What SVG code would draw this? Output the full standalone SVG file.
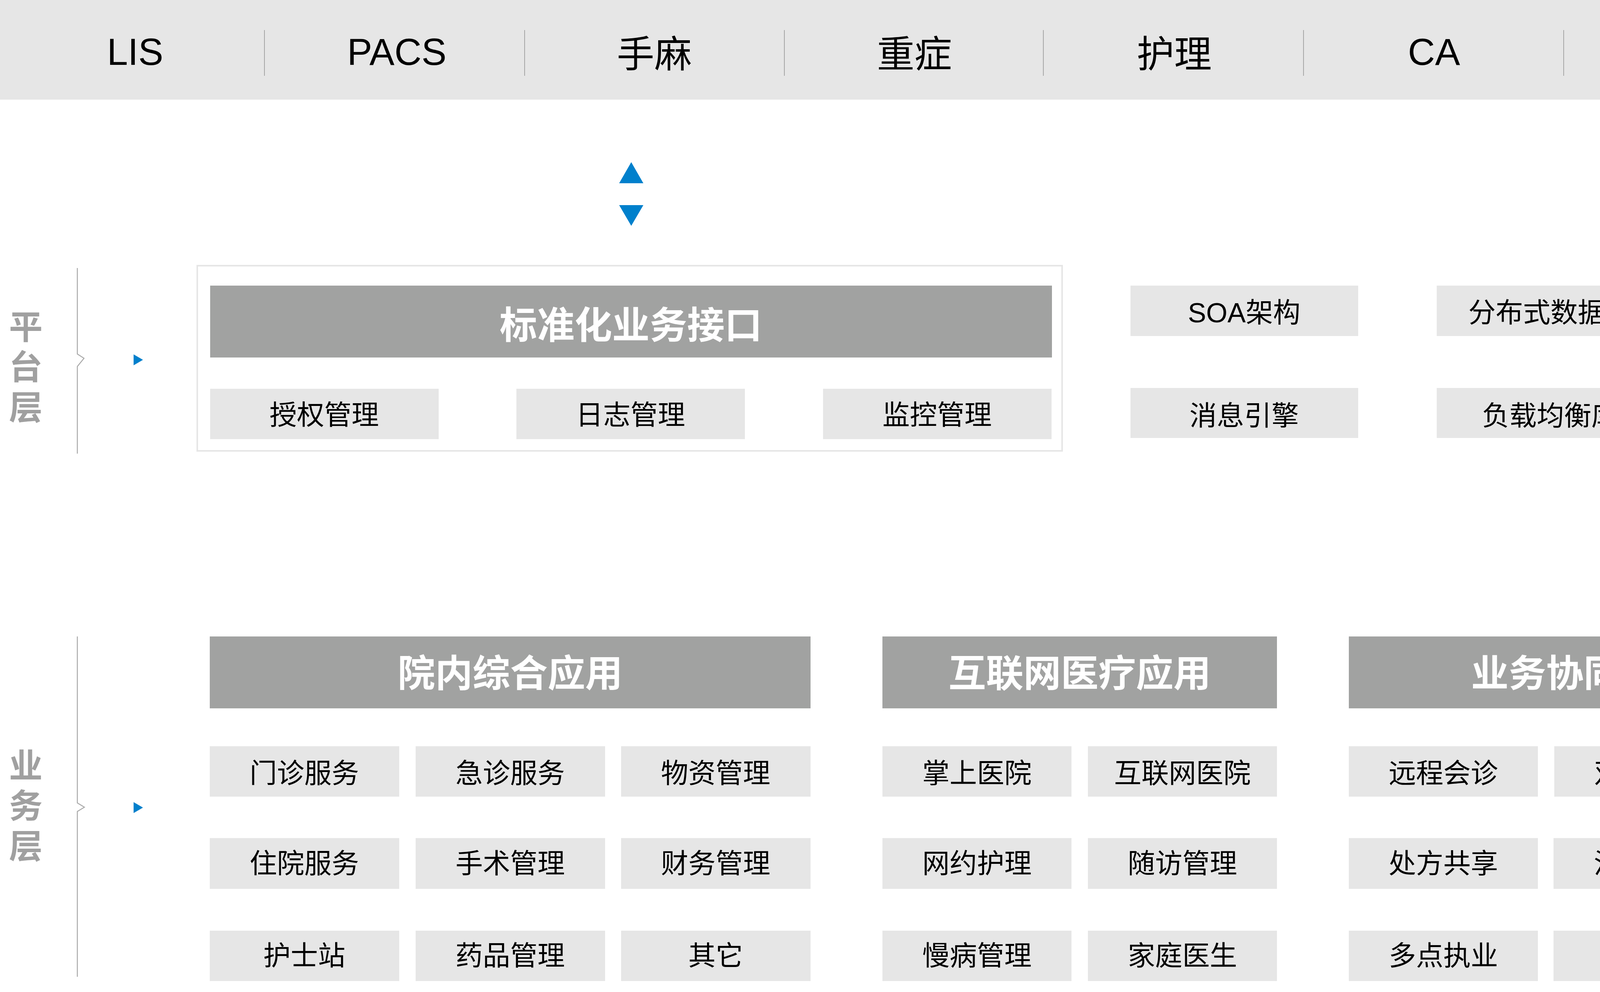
<svg xmlns="http://www.w3.org/2000/svg" width="6001" height="2539" viewBox="0 0 6001 2539">
<style>
.band{fill:#e6e6e6}
.sep{stroke:#a6a6a6;stroke-width:2}
.hdr{fill:#a1a2a1}
.box{fill:#e6e6e6}
.frame{fill:#ffffff;stroke:#e6e6e6;stroke-width:4}
.lat{font-family:"Liberation Sans","Noto Sans CJK SC",sans-serif;font-size:96px;fill:#000;text-anchor:middle}
.cjk{font-family:"Noto Sans CJK SC","Liberation Sans",sans-serif;font-size:96px;fill:#000;text-anchor:middle}
.ht{font-family:"Noto Sans CJK SC","Liberation Sans",sans-serif;font-size:96px;font-weight:bold;fill:#ffffff;text-anchor:middle}
.bt{font-family:"Liberation Sans","Noto Sans CJK SC",sans-serif;font-size:70px;fill:#000;text-anchor:middle}
.layer{font-family:"Noto Sans CJK SC","Liberation Sans",sans-serif;font-size:86px;font-weight:bold;fill:#a0a0a0;writing-mode:vertical-rl;letter-spacing:17px}
.vline{fill:none;stroke:#aaaaaa;stroke-width:2.5}
.tri{fill:#0080cc}
</style>
<rect width="6001" height="2539" fill="#ffffff"/>

<g id="top-band">
<rect class="band" x="0" y="0" width="6001" height="255"/>
<line class="sep" x1="677" y1="77" x2="677" y2="194"/>
<line class="sep" x1="1343" y1="77" x2="1343" y2="194"/>
<line class="sep" x1="2008" y1="77" x2="2008" y2="194"/>
<line class="sep" x1="2671" y1="77" x2="2671" y2="194"/>
<line class="sep" x1="3337" y1="77" x2="3337" y2="194"/>
<line class="sep" x1="4003" y1="77" x2="4003" y2="194"/>
<line class="sep" x1="4666" y1="77" x2="4666" y2="194"/>
<line class="sep" x1="5332" y1="77" x2="5332" y2="194"/>
<text class="lat" x="346" y="166">LIS</text>
<text class="lat" x="1016" y="166">PACS</text>
<text class="cjk" x="1675" y="172">手麻</text>
<text class="cjk" x="2341" y="172">重症</text>
<text class="cjk" x="3006" y="172">护理</text>
<text class="lat" x="3671" y="166">CA</text>
<text class="cjk" x="4338" y="172">输血</text>
<text class="cjk" x="5003" y="172">上报</text>
<text class="cjk" x="5667" y="172">其他</text>
</g>

<g id="layer-platform">
<text class="layer" x="66" y="792">平台层</text>
</g>
<g id="layer-business">
<text class="layer" x="66" y="1915">业务层</text>
</g>

<g id="connectors">
<path class="vline" d="M198 686 V906 L215 917 L198 938 V1161"/>
<path class="vline" d="M198 1629 V2055 L216 2066 L198 2077 V2500"/>
<polygon class="tri" points="342,907 366,921 342,935"/>
<polygon class="tri" points="342,2053 366,2067 342,2081"/>
<polygon class="tri" points="1585,469 1616,415 1647,469"/>
<polygon class="tri" points="1585,525 1647,525 1616,578"/>
</g>

<g id="platform-interface">
<rect class="frame" x="505" y="680" width="2214" height="474"/>
<rect class="hdr" x="538" y="731" width="2155" height="184"/>
<text class="ht" x="1615" y="866">标准化业务接口</text>
<g id="p-auth"><rect class="box" x="538" y="995" width="585" height="129"/><text class="bt" x="830" y="1087">授权管理</text></g>
<g id="p-log"><rect class="box" x="1322" y="995" width="585" height="129"/><text class="bt" x="1614" y="1087">日志管理</text></g>
<g id="p-mon"><rect class="box" x="2107" y="995" width="585" height="129"/><text class="bt" x="2399" y="1087">监控管理</text></g>
</g>

<g id="platform-tech">
<g id="t-soa"><rect class="box" x="2894" y="731" width="583" height="129"/><text class="bt" x="3185" y="825">SOA架构</text></g>
<g id="t-ddb"><rect class="box" x="3678" y="731" width="583" height="129"/><text class="bt" x="3969" y="825">分布式数据库</text></g>
<g id="t-cache"><rect class="box" x="4463" y="731" width="583" height="129"/><text class="bt" x="4754" y="825">高速缓存</text></g>
<g id="t-rw"><rect class="box" x="5247" y="731" width="583" height="129"/><text class="bt" x="5538" y="825">读写分离</text></g>
<g id="t-msg"><rect class="box" x="2894" y="993" width="583" height="128"/><text class="bt" x="3185" y="1089">消息引擎</text></g>
<g id="t-lb"><rect class="box" x="3678" y="993" width="583" height="128"/><text class="bt" x="3969" y="1089">负载均衡库</text></g>
<g id="t-rule"><rect class="box" x="4463" y="993" width="583" height="128"/><text class="bt" x="4754" y="1089">规则引擎</text></g>
<g id="t-fe"><rect class="box" x="5247" y="993" width="583" height="128"/><text class="bt" x="5538" y="1089">前后端分离</text></g>
</g>

<g id="g-hospital">
<rect class="hdr" x="537" y="1629" width="1538" height="184"/>
<text class="ht" x="1306" y="1757">院内综合应用</text>
<g id="h1"><rect class="box" x="537" y="1910" width="485" height="129"/><text class="bt" x="779" y="2004">门诊服务</text></g>
<g id="h2"><rect class="box" x="1064" y="1910" width="485" height="129"/><text class="bt" x="1306" y="2004">急诊服务</text></g>
<g id="h3"><rect class="box" x="1590" y="1910" width="485" height="129"/><text class="bt" x="1832" y="2004">物资管理</text></g>
<g id="h4"><rect class="box" x="537" y="2145" width="485" height="130"/><text class="bt" x="779" y="2235">住院服务</text></g>
<g id="h5"><rect class="box" x="1064" y="2145" width="485" height="130"/><text class="bt" x="1306" y="2235">手术管理</text></g>
<g id="h6"><rect class="box" x="1590" y="2145" width="485" height="130"/><text class="bt" x="1832" y="2235">财务管理</text></g>
<g id="h7"><rect class="box" x="537" y="2382" width="485" height="129"/><text class="bt" x="779" y="2471">护士站</text></g>
<g id="h8"><rect class="box" x="1064" y="2382" width="485" height="129"/><text class="bt" x="1306" y="2471">药品管理</text></g>
<g id="h9"><rect class="box" x="1590" y="2382" width="485" height="129"/><text class="bt" x="1832" y="2471">其它</text></g>
</g>

<g id="g-internet">
<rect class="hdr" x="2259" y="1629" width="1010" height="184"/>
<text class="ht" x="2764" y="1757">互联网医疗应用</text>
<g id="i1"><rect class="box" x="2259" y="1910" width="484" height="129"/><text class="bt" x="2501" y="2004">掌上医院</text></g>
<g id="i2"><rect class="box" x="2785" y="1910" width="484" height="129"/><text class="bt" x="3027" y="2004">互联网医院</text></g>
<g id="i3"><rect class="box" x="2259" y="2145" width="484" height="130"/><text class="bt" x="2501" y="2235">网约护理</text></g>
<g id="i4"><rect class="box" x="2785" y="2145" width="484" height="130"/><text class="bt" x="3027" y="2235">随访管理</text></g>
<g id="i5"><rect class="box" x="2259" y="2382" width="484" height="129"/><text class="bt" x="2501" y="2471">慢病管理</text></g>
<g id="i6"><rect class="box" x="2785" y="2382" width="484" height="129"/><text class="bt" x="3027" y="2471">家庭医生</text></g>
</g>

<g id="g-collab">
<rect class="hdr" x="3453" y="1629" width="1010" height="184"/>
<text class="ht" x="3958" y="1757">业务协同</text>
<g id="c1"><rect class="box" x="3453" y="1910" width="484" height="129"/><text class="bt" x="3695" y="2004">远程会诊</text></g>
<g id="c2"><rect class="box" x="3979" y="1910" width="484" height="129"/><text class="bt" x="4221" y="2004">双向转诊</text></g>
<g id="c3"><rect class="box" x="3453" y="2145" width="484" height="130"/><text class="bt" x="3695" y="2235">处方共享</text></g>
<g id="c4"><rect class="box" x="3977" y="2145" width="486" height="130"/><text class="bt" x="4220" y="2235">治疗协同</text></g>
<g id="c5"><rect class="box" x="3453" y="2382" width="484" height="129"/><text class="bt" x="3695" y="2471">多点执业</text></g>
<g id="c6"><rect class="box" x="3977" y="2382" width="486" height="129"/><text class="bt" x="4220" y="2471">其它</text></g>
</g>

<g id="g-admin">
<rect class="hdr" x="4646" y="1629" width="1187" height="184"/>
<text class="ht" x="5239" y="1757">综合管理</text>
<g id="a1"><rect class="box" x="4646" y="1910" width="573" height="129"/><text class="bt" x="4932" y="2004">医护资源管理</text></g>
<g id="a2"><rect class="box" x="5260" y="1910" width="573" height="129"/><text class="bt" x="5546" y="2004">多维权限管理</text></g>
<g id="a3"><rect class="box" x="4646" y="2145" width="573" height="130"/><text class="bt" x="4932" y="2235">数据字典管理</text></g>
<g id="a4"><rect class="box" x="5260" y="2145" width="573" height="130"/><text class="bt" x="5546" y="2235">业务资源管理</text></g>
<g id="a5"><rect class="box" x="4646" y="2382" width="573" height="129"/><text class="bt" x="4932" y="2471">驾驶舱</text></g>
<g id="a6"><rect class="box" x="5260" y="2382" width="573" height="129"/><text class="bt" x="5546" y="2471">综合监管</text></g>
</g>
</svg>
